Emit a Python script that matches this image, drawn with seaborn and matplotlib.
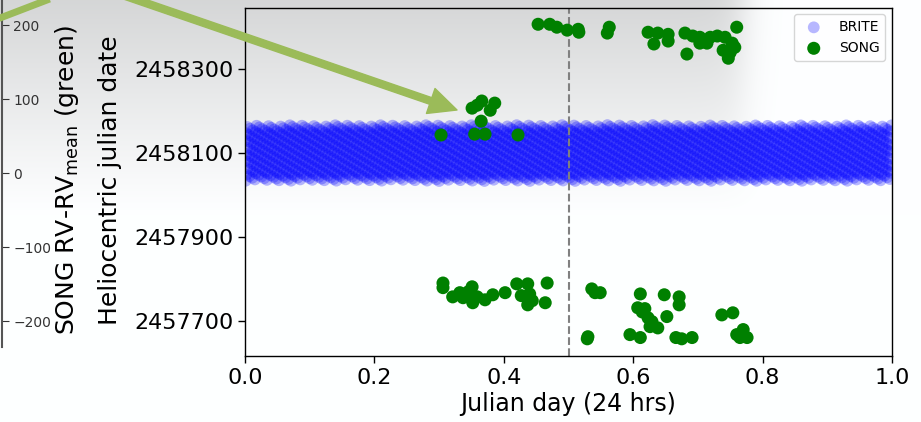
import numpy as np
import pandas as pd
import matplotlib
matplotlib.use("Agg")
import matplotlib.pyplot as plt
import seaborn as sns
from matplotlib.patches import FancyArrowPatch
from matplotlib.lines import Line2D

# ---------------- data ----------------
song_day_frac = [
    0.453, 0.471, 0.482, 0.498, 0.515, 0.516, 0.563, 0.560, 0.623, 0.638,
    0.654, 0.654, 0.632, 0.680, 0.692, 0.703, 0.703, 0.714, 0.719, 0.730,
    0.742, 0.760, 0.753, 0.757, 0.739, 0.750, 0.747, 0.683,
    0.351, 0.359, 0.366, 0.386, 0.379, 0.365, 0.303, 0.355, 0.371, 0.422,
    0.306, 0.306, 0.321, 0.332, 0.337, 0.345, 0.351, 0.352, 0.359, 0.371,
    0.383, 0.402, 0.420, 0.437, 0.427, 0.440, 0.444, 0.437, 0.467, 0.464,
    0.536, 0.541, 0.549, 0.611, 0.648, 0.671, 0.671, 0.607, 0.618, 0.614,
    0.623, 0.629, 0.652, 0.626, 0.638, 0.530, 0.529, 0.595, 0.611, 0.666,
    0.675, 0.691, 0.737, 0.754, 0.760, 0.770, 0.776, 0.765,
]
song_hjd = [
    2458407, 2458407, 2458400, 2458393, 2458395, 2458388, 2458400, 2458386, 2458388, 2458386,
    2458383, 2458367, 2458360, 2458386, 2458379, 2458376, 2458362, 2458362, 2458376, 2458379,
    2458376, 2458400, 2458362, 2458352, 2458345, 2458340, 2458326, 2458336,
    2458207, 2458214, 2458224, 2458219, 2458202, 2458176, 2458143, 2458145, 2458145, 2458143,
    2457790, 2457779, 2457757, 2457767, 2457755, 2457769, 2457781, 2457743, 2457757, 2457750,
    2457762, 2457767, 2457788, 2457788, 2457760, 2457764, 2457748, 2457738, 2457790, 2457743,
    2457776, 2457767, 2457767, 2457764, 2457762, 2457757, 2457738, 2457731, 2457729, 2457721,
    2457707, 2457698, 2457710, 2457686, 2457683, 2457662, 2457657, 2457667, 2457660, 2457660,
    2457657, 2457660, 2457714, 2457719, 2457667, 2457679, 2457660, 2457660,
]

# BRITE orbit-averaged observing run
brite_start = 2458033.3
brite_end = 2458166.7
brite_cadence = 0.0701   # days (one point per satellite orbit)

x_ticks = [0.0, 0.2, 0.4, 0.6, 0.8, 1.0]
y_ticks = [2457700, 2457900, 2458100, 2458300]
rv_ticks = [-200, -100, 0, 100, 200]
midday = 0.5

brite_t = np.arange(brite_start, brite_end, brite_cadence)
brite = pd.DataFrame({"day_frac": brite_t % 1.0, "hjd": brite_t})
song = pd.DataFrame({"day_frac": song_day_frac, "hjd": song_hjd})

# ---------------- figure ----------------
W, H = 921, 422
fig = plt.figure(figsize=(W / 100, H / 100), dpi=100)

# background (soft grey slide backdrop)
bg = fig.add_axes([0, 0, 1, 1], zorder=-10)
yy, xx = np.mgrid[0:H, 0:W]
hx = 1.0 / (1.0 + np.exp((xx - 742) / 10.0))
dv = 0.16 * np.clip(1 - yy / 215.0, 0, 1) ** 1.1
g = 1 - dv * hx
bg.imshow(np.dstack([g * 0.995, g, g * 1.003]).clip(0, 1), aspect="auto",
          interpolation="bilinear")
bg.axis("off")

# main axes
ax = fig.add_axes([245 / W, 1 - 356 / H, 647 / W, 348.5 / H])
ax.patch.set_facecolor("none")
sns.scatterplot(data=brite, x="day_frac", y="hjd", ax=ax, color="blue",
                alpha=0.28, s=72, edgecolor="none", label="BRITE", zorder=1)
sns.scatterplot(data=song, x="day_frac", y="hjd", ax=ax, color="green",
                alpha=1.0, s=88, edgecolor="none", label="SONG", zorder=3)
ax.axvline(midday, color="gray", ls="--", lw=1.5, zorder=2)

ax.set_xlim(0, 1)
ax.set_ylim(2457616, 2458447)
ax.set_xticks(x_ticks)
ax.set_xticklabels([f"{v:.1f}" for v in x_ticks])
ax.set_yticks(y_ticks)
ax.set_yticklabels([str(v) for v in y_ticks])
ax.tick_params(labelsize=16, length=5, width=1)
ax.set_xlabel("Julian day (24 hrs)", fontsize=17, labelpad=3)
ax.set_ylabel("Heliocentric julian date", fontsize=18)
ax.yaxis.set_label_coords(-0.190, 0.505)
for s in ax.spines.values():
    s.set_linewidth(1.0)
ax.legend(loc="upper right", fontsize=10, markerscale=1.0, frameon=True)

# cropped RV axis on the far left
rv_ax = fig.add_axes([-0.05, 75 / H, 0.05 + 1.5 / W, 347 / H])
rv_ax.patch.set_alpha(0)
rv_ax.set_xlim(0, 1)
rv_ax.set_ylim(-235, 234)
for s in ["left", "top", "bottom"]:
    rv_ax.spines[s].set_visible(False)
rv_ax.spines["right"].set_color("#555555")
rv_ax.spines["right"].set_linewidth(1.5)
rv_ax.yaxis.tick_right()
rv_ax.set_yticks(rv_ticks)
rv_ax.set_xticks([])
rv_ax.tick_params(axis="y", labelsize=10, length=5, colors="#333333")
fig.text(67 / W, 1 - 180 / H, r"SONG RV-RV$_{\mathrm{mean}}$ (green)",
         rotation=90, ha="center", va="center", fontsize=18)

# green annotation arrows
arrow_green = "#9BBB59"
arr = FancyArrowPatch((80 / W, 1 + 19.6 / H), (457 / W, 1 - 110 / H),
                      transform=fig.transFigure,
                      arrowstyle="simple,head_length=1.0,head_width=0.95,tail_width=0.25",
                      mutation_scale=20, color=arrow_green, shrinkA=0, shrinkB=0,
                      zorder=20)
fig.add_artist(arr)
fig.add_artist(Line2D([-20 / W, 70 / W], [1 - 25.7 / H, 1 + 8.8 / H],
                      transform=fig.transFigure, color=arrow_green, lw=5,
                      solid_capstyle="butt", zorder=20))

fig.savefig("out.png", dpi=100)
